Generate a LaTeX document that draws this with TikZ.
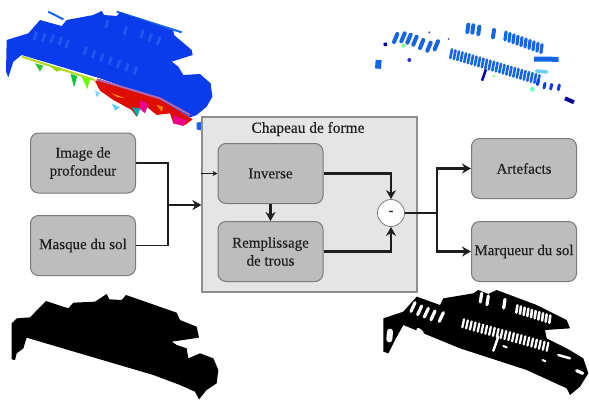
\documentclass[tikz,border=0pt]{standalone}
\usepackage{fontspec}
\setmainfont{Liberation Serif}
\newfontfamily\boxfont[FakeBold=0.35]{Liberation Serif}
\usetikzlibrary{arrows.meta}
\definecolor{boxfill}{HTML}{BDBDBD}
\definecolor{boxline}{HTML}{7A7A7A}
\definecolor{panelfill}{HTML}{E5E5E5}
\definecolor{panelline}{HTML}{8E8E8E}
\definecolor{ink}{HTML}{1E1E1E}
\definecolor{cloudblue}{HTML}{0A3CEB}
\definecolor{cloudlight}{HTML}{1F55EC}
\definecolor{cloudmid}{HTML}{1565E8}
\tikzset{
  procbox/.style={draw=boxline,line width=1pt,fill=boxfill,rounded corners=8pt,minimum width=105pt,minimum height=60pt,inner sep=0pt,align=center,text=ink,font=\boxfont\fontsize{15}{18}\selectfont},
  panelbox/.style={draw=panelline,line width=1.2pt,fill=panelfill,minimum width=215pt,minimum height=175pt,inner sep=0pt},
  paneltitle/.style={text=ink,font=\boxfont\fontsize{15.4}{15}\selectfont,inner sep=0pt},
  minusnode/.style={circle,draw=boxline,line width=.8pt,fill=white,minimum size=27pt,inner sep=0pt,text=ink,font=\bfseries\fontsize{15}{15}\selectfont},
  flow/.style={draw=ink,line width=1.8pt},
  flowarrow/.style={draw=ink,line width=2.2pt,-{Stealth[length=9pt,width=10pt]}},
  thinarrow/.style={draw=ink,line width=.6pt,-{Stealth[length=5pt,width=5pt]}},
  zoomed/.style={x=.33333pt,y=-.33333pt},
  blob/.style={line width=4pt,line cap=round},
  slit/.style={draw=white,line width=3.2pt,line cap=round}
}
\begin{document}
\begin{tikzpicture}[x=1pt,y=-1pt]
\useasboundingbox (0,0) rectangle (589,400);
% blue cloud, top left
\begin{scope}[shift={(0,0)},zoomed]
  \draw[cloudmid,line width=2pt] (145,35) -- (190,58);
  \draw[cloudmid,line width=2pt] (350,35) -- (545,97);
  \fill[cloudblue] (20,120) -- (85,100) -- (120,60) -- (185,78) -- (200,60) -- (280,45) -- (305,33) -- (312,45) -- (350,48) -- (360,37) -- (520,92) -- (522,105) -- (575,150) -- (578,165) -- (515,185) -- (535,200) -- (550,225) -- (600,222) -- (632,250) -- (637,290) -- (620,320) -- (590,345) -- (570,352) -- (480,300) -- (300,235) -- (65,165) -- (40,185) -- (25,232) -- (18,215) -- cycle;
  \foreach \a/\b in {110/95,135/100,160/105,185/110,205/120,260/140,285/150,310/160,335/170,360/180,385/190,410/200,430/90,455/100,480/110,325/60,380/80}
    \draw[cloudlight,line width=3pt] (\a,\b) -- ++(-8,24);
  \fill[red!85!black!90!orange] (285,243) -- (300,238) -- (480,298) -- (578,358) -- (555,375) -- (520,370) -- (510,340) -- (470,345) -- (440,320) -- (420,325) -- (410,350) -- (395,330) -- (340,300) -- (300,272) -- cycle;
  \fill[magenta] (520,345) -- (560,362) -- (550,378) -- (520,370) -- cycle;
  \fill[magenta] (420,300) -- (445,312) -- (435,340) -- (418,325) -- cycle;
  \fill[teal!70!cyan] (395,322) -- (420,325) -- (412,350) -- cycle;
  \fill[orange] (470,315) -- (490,320) -- (485,335) -- cycle;
  \fill[orange!70!yellow] (335,280) -- (375,295) -- (350,290) -- cycle;
  \draw[yellow!70!green,line width=2pt] (65,170) -- (285,240);
  \draw[violet!60!white,line width=2pt] (290,238) -- (480,295) -- (570,345);
  \fill[green!70!black!80!white] (105,190) -- (130,197) -- (120,215) -- cycle;
  \fill[yellow!60!green] (145,195) -- (190,208) -- (170,215) -- cycle;
  \fill[green!55!teal] (212,222) -- (232,228) -- (222,262) -- cycle;
  \fill[green!60!yellow] (245,230) -- (270,238) -- (262,268) -- cycle;
  \fill[cyan!50!white] (285,270) -- (300,280) -- (290,292) -- cycle;
  \fill[cyan!60!white] (335,310) -- (360,322) -- (345,332) -- cycle;
  \fill[cloudmid] (590,368) -- (608,365) -- (605,392) -- (590,388) -- cycle;
\end{scope}
% blue fragments, top right
\begin{scope}[shift={(360,10)},zoomed]
  \foreach \a/\b in {325/44,340/46,358/50,402/60}
    \draw[cloudmid,blob] (\a,\b) -- ++(-3,22);
  \foreach \i in {0,...,9}
    \draw[cloudmid,line width=3.2pt,line cap=round] ({438+\i*12},{66+\i*4.2}) -- ++(-3,24);
  \draw[cloudmid,line width=5pt] (522,147) -- (596,148);
  \foreach \a/\b in {112/72,134/70,152/74,170/80,190/90,212/98,234/94}
    \draw[cloudmid,line width=4pt,line cap=round] (\a,\b) -- ++(-10,24);
  \foreach \i in {0,...,25}
    \draw[cloudmid,line width=2.6pt,line cap=round] ({276+\i*10.5},{118+\i*3.1}) -- ++(-5,26);
  \foreach \a/\b in {535/210,555/220,575/223,598/225}
    \draw[cloudblue,line width=3pt,line cap=round] (\a,\b) -- ++(-3,14);
  \draw[blue!70!black,line width=2.5pt] (378,178) -- (366,212);
  \draw[cloudmid,line width=6pt] (56,150) -- (54,176);
  \draw[blue!60!black,line width=4pt] (615,265) -- (642,277);
  \fill[blue!60!black] (76,103) circle (6);
  \fill[blue!60!gray] (148,150) circle (6);
  \fill[blue!40!gray] (208,67) circle (3.5);
  \fill[blue!40!gray] (266,87) circle (3);
  \fill[green!50!white] (130,107) circle (6);
  \fill[green!40!white] (402,198) circle (5);
  \fill[green!40!cyan!60!white] (517,238) circle (7);
  \draw[cyan!60!white,line width=3.5pt,line cap=round] (530,183) -- (560,186);
\end{scope}
% black mask, bottom left
\begin{scope}[shift={(0,290)},zoomed]
  \fill[black] (35,100) -- (50,85) -- (90,82) -- (138,33) -- (205,55) -- (220,38) -- (285,35) -- (320,12) -- (328,28) -- (365,30) -- (378,15) -- (530,68) -- (540,90) -- (590,110) -- (597,143) -- (515,155) -- (530,165) -- (560,175) -- (565,205) -- (600,190) -- (640,205) -- (655,240) -- (650,280) -- (620,300) -- (597,328) -- (585,305) -- (540,285) -- (460,255) -- (290,205) -- (80,143) -- (70,175) -- (50,190) -- (45,210) -- (35,208) -- cycle;
\end{scope}
% black mask with slits, bottom right
\begin{scope}[shift={(360,280)},zoomed]
  \fill[black] (70,115) -- (130,95) -- (170,50) -- (240,75) -- (250,55) -- (340,40) -- (355,30) -- (385,42) -- (410,30) -- (530,75) -- (620,120) -- (630,145) -- (555,150) -- (560,175) -- (620,205) -- (670,235) -- (685,280) -- (660,320) -- (630,345) -- (620,325) -- (500,270) -- (300,205) -- (130,135) -- (105,180) -- (85,220) -- (70,215) -- cycle;
  \foreach \a/\b in {165/68,185/78,205/85,225/93,250/98}
    \draw[slit] (\a,\b) -- ++(-12,26);
  \foreach \a/\b in {365/40,385/48,435/58}
    \draw[slit] (\a,\b) -- ++(-4,26);
  \foreach \i in {0,...,9}
    \draw[slit,line width=2.6pt] ({472+\i*11},{76+\i*3.4}) -- ++(-3,22);
  \foreach \i in {0,...,22}
    \draw[slit,line width=2.3pt] ({312+\i*11.5},{118+\i*3.2}) -- ++(-5,24);
  \draw[slit,line width=2.5pt] (415,170) -- (400,212);
  \draw[slit,line width=6pt] (90,155) -- (88,178);
  \draw[slit,line width=4pt] (175,150) -- (185,158);
  \draw[slit,line width=2.5pt] (595,225) -- (630,235);
  \draw[slit] (650,272) -- (668,280);
  \draw[slit,line width=2pt] (548,240) -- (556,244);
  \draw[slit,line width=2pt] (430,198) -- (440,202);
\end{scope}
% diagram
\node[procbox] (image) at (83,163) {Image de\\profondeur};
\node[procbox] (masque) at (83,245.5) {Masque du sol};
\node[panelbox] (panel) at (309.5,204.5) {};
\node[paneltitle] (title) at (308,129) {Chapeau de forme};
\node[procbox] (inverse) at (270.5,173.5) {Inverse};
\node[procbox] (remplissage) at (270.5,251.5) {Remplissage\\de trous};
\node[minusnode] (minus) at (391,213) {-};
\node[procbox] (artefacts) at (524,168.5) {Artefacts};
\node[procbox] (marqueur) at (524,251.5) {Marqueur du sol};
\coordinate (joinin) at (168,205);
\coordinate (joinout) at (437,213);
\coordinate (thinstart) at (panel.west |- inverse.west);
\draw[flow] (image.east) -| (joinin);
\draw[flow] (masque.east) -| (joinin);
\draw[flowarrow] (joinin) -- (joinin -| panel.west);
\draw[thinarrow] (thinstart) -- (inverse.west);
\draw[flowarrow] (inverse.east) -| (minus.north);
\draw[flowarrow] (remplissage.east) -| (minus.south);
\draw[flowarrow] (inverse.south) -- (remplissage.north);
\draw[flow] (minus.east) -- (joinout);
\draw[flowarrow] (joinout) |- (artefacts.west);
\draw[flowarrow] (joinout) |- (marqueur.west);
\end{tikzpicture}
\end{document}
